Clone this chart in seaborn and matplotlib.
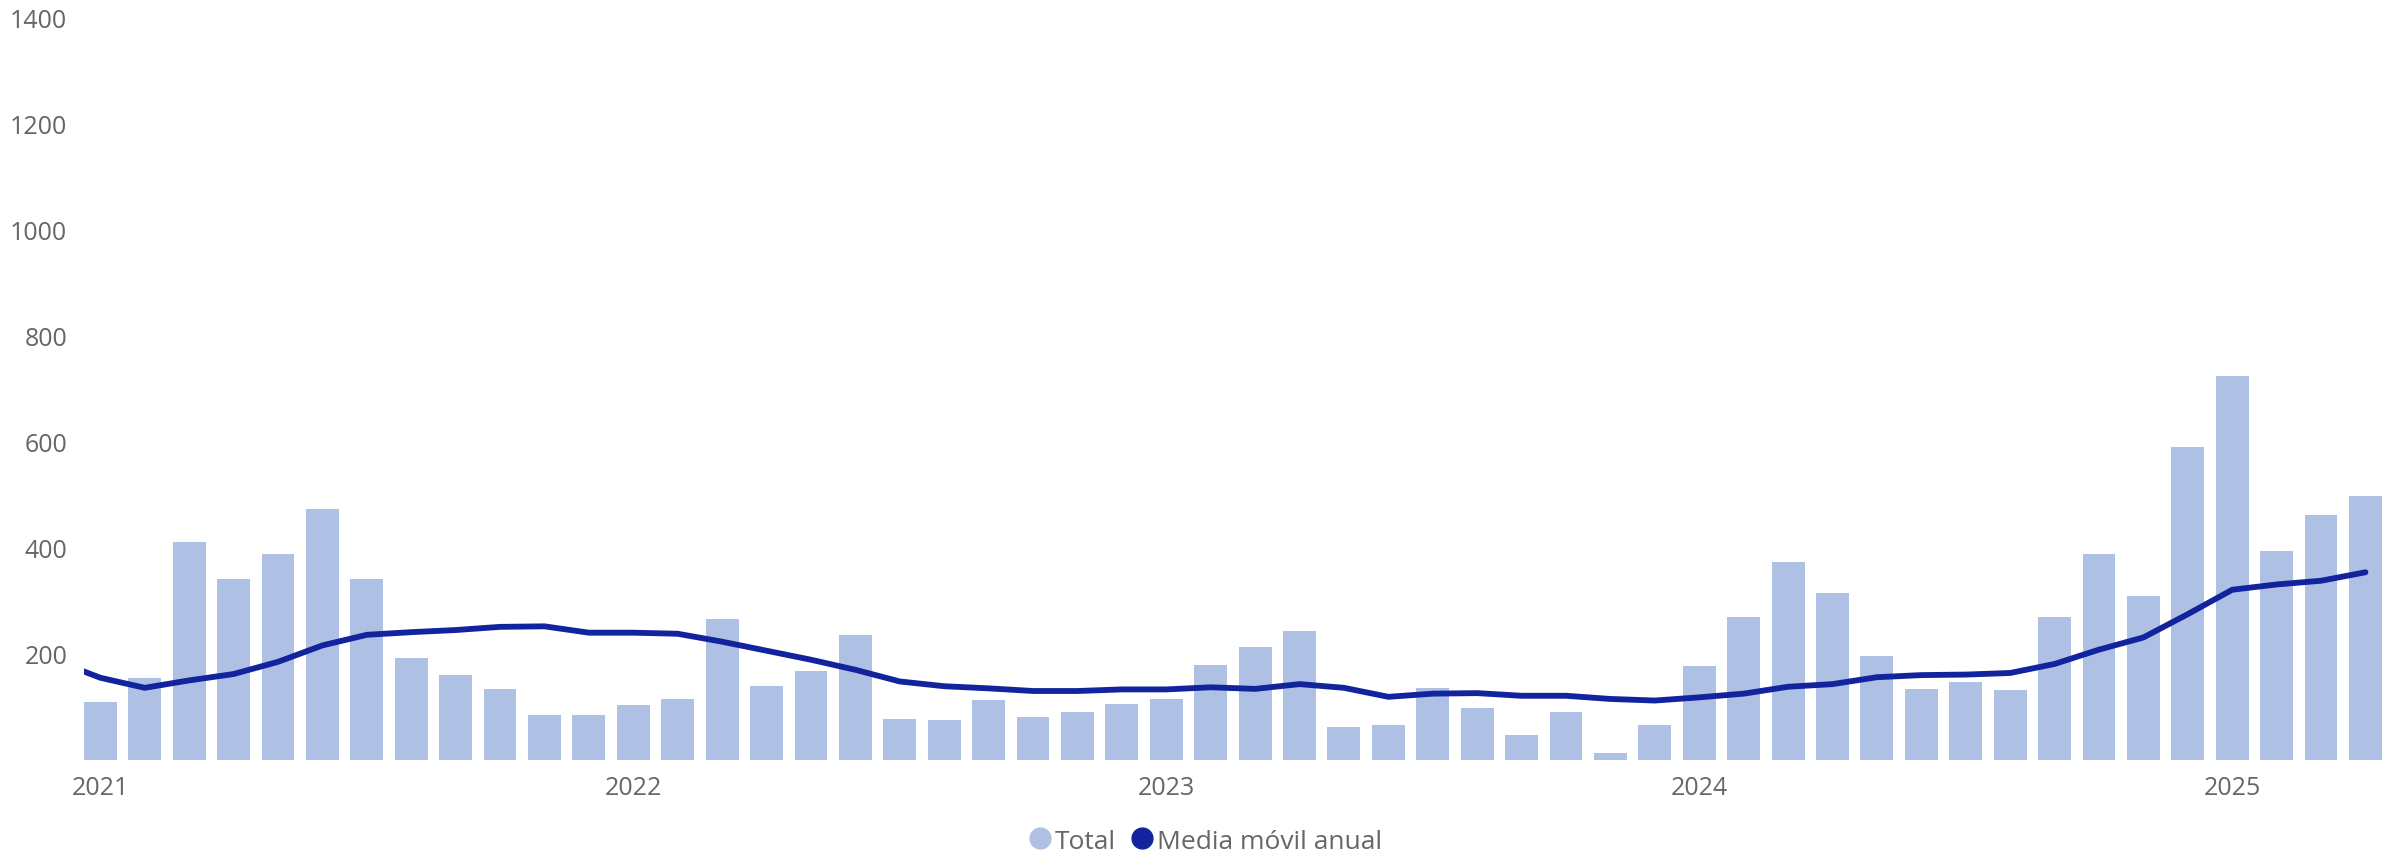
import numpy as np
import pandas as pd
import matplotlib
matplotlib.use('Agg')
import matplotlib.pyplot as plt
import seaborn as sns
from matplotlib.lines import Line2D

# monthly totals, Jan 2021 .. Apr 2025
total = [109, 155, 411, 342, 389, 474, 342, 192, 160, 134, 85, 85,
         104, 115, 266, 140, 168, 236, 77, 75, 113, 81, 91, 106,
         115, 179, 213, 243, 62, 66, 136, 98, 47, 91, 13, 66,
         177, 270, 374, 315, 196, 134, 147, 132, 270, 389, 309, 590,
         725, 394, 462, 498]

# annual moving average, Dec 2020 .. Apr 2025 (first point sits left of the axes)
media = [187,
         155, 136, 150, 162, 185, 216, 236, 241, 245, 251, 252, 240,
         240, 238, 223, 206, 189, 170, 148, 139, 135, 130, 130, 133,
         133, 137, 134, 143, 136, 119, 125, 126, 121, 121, 115, 112,
         118, 125, 138, 143, 156, 160, 161, 164, 181, 208, 231, 275,
         321, 331, 338, 354]

years = ['2021', '2022', '2023', '2024', '2025']
yticks = [200, 400, 600, 800, 1000, 1200, 1400]
series = ['Total', 'Media móvil anual']

bar_color = '#AEC1E4'
line_color = '#12239E'
text_color = '#666666'

sns.set_theme(style='white')
plt.rcParams['font.family'] = ['Open Sans', 'DejaVu Sans']

month_idx = np.arange(len(total))
media_idx = np.arange(len(media)) - (len(media) - len(total))
year_idx = month_idx[::12]

df = pd.DataFrame({'mes': month_idx, 'total': total})
dm = pd.DataFrame({'mes': media_idx, 'media': media})

fig = plt.figure(figsize=(23.97, 8.54), dpi=100)
ax = fig.add_axes([0.035, 0.109, 0.9587, 0.869])

sns.barplot(data=df, x='mes', y='total', native_scale=True, width=0.74,
            color=bar_color, saturation=1, linewidth=0, ax=ax)
sns.lineplot(data=dm, x='mes', y='media', color=line_color, linewidth=4.2, ax=ax)
ax.lines[-1].set_solid_capstyle('round')
ax.lines[-1].set_solid_joinstyle('round')

ax.set_xlim(-0.37, len(total) - 1 + 0.37)
ax.set_ylim(0, 1400)
ax.set_yticks(yticks)
ax.set_xticks(year_idx)
ax.set_xticklabels(years)
ax.set_xlabel('')
ax.set_ylabel('')
ax.tick_params(axis='both', length=0, labelsize=18, colors=text_color)
ax.tick_params(axis='x', pad=11)
ax.tick_params(axis='y', pad=12)
ax.grid(False)
sns.despine(ax=ax, left=True, bottom=True)

handles = [Line2D([0], [0], marker='o', linestyle='', markersize=15,
                  markerfacecolor=c, markeredgecolor=c) for c in (bar_color, line_color)]
fig.legend(handles, series, loc='center', bbox_to_anchor=(0.503, 0.014), ncol=2,
           frameon=False, fontsize=19, handlelength=0.8, handletextpad=0.15,
           columnspacing=0.6, labelcolor=text_color, borderaxespad=0)

fig.savefig('out.png', dpi=100)
